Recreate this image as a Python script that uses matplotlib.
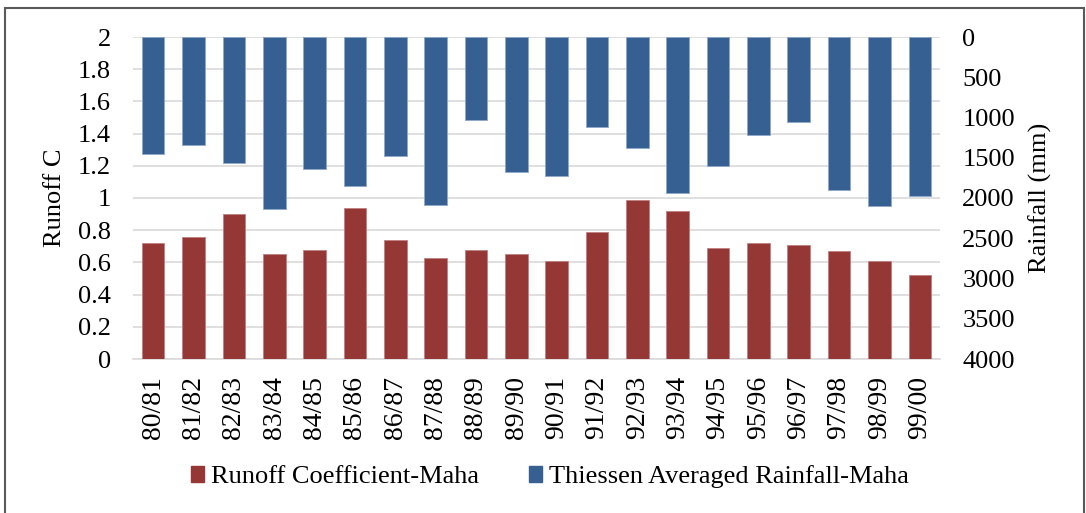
import matplotlib
matplotlib.use("Agg")
import matplotlib.pyplot as plt
from matplotlib import font_manager
from matplotlib.patches import Rectangle, Patch
import numpy as np

seasons = ["80/81", "81/82", "82/83", "83/84", "84/85", "85/86", "86/87", "87/88", "88/89", "89/90",
           "90/91", "91/92", "92/93", "93/94", "94/95", "95/96", "96/97", "97/98", "98/99", "99/00"]
runoff_coef = [0.72, 0.76, 0.90, 0.65, 0.68, 0.94, 0.74, 0.63, 0.68, 0.65,
               0.61, 0.79, 0.99, 0.92, 0.69, 0.72, 0.71, 0.67, 0.61, 0.52]
rainfall = [1449, 1346, 1561, 2133, 1640, 1847, 1478, 2091, 1031, 1677,
            1723, 1122, 1383, 1942, 1602, 1213, 1052, 1901, 2099, 1971]
left_ticks = [0, 0.2, 0.4, 0.6, 0.8, 1, 1.2, 1.4, 1.6, 1.8, 2]
left_tick_labels = ["0", "0.2", "0.4", "0.6", "0.8", "1", "1.2", "1.4", "1.6", "1.8", "2"]
right_ticks = [0, 500, 1000, 1500, 2000, 2500, 3000, 3500, 4000]

RED = "#953735"
BLUE = "#376092"
GRID = "#D9D9D9"

serif = None
for f in font_manager.fontManager.ttflist:
    if f.name == "Liberation Serif" and f.style == "normal" and f.weight in (400, "normal", "regular"):
        serif = f.fname
        break
fam = font_manager.FontProperties(fname=serif).get_name() if serif else "DejaVu Serif"
plt.rcParams['font.family'] = [fam, 'DejaVu Serif']

FS = 19

W, H = 1086, 513
fig = plt.figure(figsize=(W / 100, H / 100), dpi=100)
ax = fig.add_axes([133 / W, 1 - 359 / H, (940 - 133) / W, (359 - 37) / H])
ax2 = ax.twinx()

x = np.arange(len(seasons))
bw = 0.56
ax.bar(x, runoff_coef, width=bw, color=RED, edgecolor="#C08080", linewidth=0.6, zorder=3)
ax2.bar(x, rainfall, width=bw, color=BLUE, edgecolor="#8FA8C8", linewidth=0.6, zorder=3)

ax.set_xlim(-0.5, len(seasons) - 0.5)
ax.set_ylim(0, 2)
ax2.set_ylim(4000, 0)
ax.set_yticks(left_ticks)
ax.set_yticklabels(left_tick_labels)
ax2.set_yticks(right_ticks)
ax2.set_yticklabels([str(v) for v in right_ticks])

ax.set_xticks(x)
ax.set_xticklabels(seasons, rotation=90, fontsize=FS + 1)
ax.tick_params(axis='x', length=0, pad=12)
ax.tick_params(axis='y', length=0, labelsize=FS, pad=16)
ax2.tick_params(axis='y', length=0, labelsize=FS, pad=16)

ax.grid(axis='y', color=GRID, linewidth=1.2, zorder=0)
ax.set_axisbelow(True)
for a in (ax, ax2):
    for s in a.spines.values():
        s.set_visible(False)
ax.spines['bottom'].set_visible(True)
ax.spines['bottom'].set_color(GRID)
ax.spines['bottom'].set_linewidth(1.2)

ax.set_ylabel("Runoff C", fontsize=FS)
ax2.set_ylabel("Rainfall (mm)", fontsize=FS)
ax.yaxis.set_label_coords((55 - 133) / (940 - 133), 0.5)
ax2.yaxis.set_label_coords((1040 - 133) / (940 - 133), 0.5)
ax.yaxis.label.set_va("center")
ax2.yaxis.label.set_va("center")

handles = [Patch(facecolor=RED, edgecolor=RED), Patch(facecolor=BLUE, edgecolor=BLUE)]
fig.legend(handles, ["Runoff Coefficient-Maha", "Thiessen Averaged Rainfall-Maha"],
           loc="center", bbox_to_anchor=(550 / W, 1 - 477 / H), ncol=2, frameon=False,
           fontsize=FS, handlelength=0.5, handleheight=0.55, handletextpad=0.25,
           columnspacing=1.9, borderpad=0.2)

fig.add_artist(Rectangle((5 / W, -10 / H), (1084 - 5) / W, (505 + 10) / H,
                         transform=fig.transFigure, fill=False, edgecolor="#595959",
                         linewidth=1.5))

fig.savefig("out.png", dpi=100)
